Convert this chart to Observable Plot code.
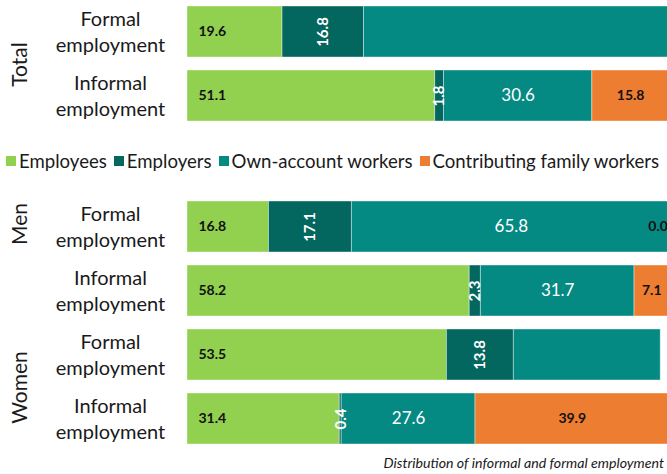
<!DOCTYPE html>
<html><head><meta charset="utf-8">
<script src="https://cdn.jsdelivr.net/npm/d3@7"></script>
<script src="https://cdn.jsdelivr.net/npm/@observablehq/plot@0.6"></script>
<style>
body{margin:0;background:#fff;font-family:Lato, sans-serif;width:667px;height:474px;overflow:hidden;}
svg{display:block}
#legend{display:flex;align-items:center;height:67px;padding-left:6px;font-size:18.6px;color:#1a1a1a;white-space:nowrap}
#legend .sw{width:10px;height:10px;margin-right:3px;flex:none}
#legend .it{display:flex;align-items:center;margin-right:7px}
#caption{height:23px;line-height:23px;text-align:right;padding-right:3px;font-size:14.2px;font-style:italic;color:#1a1a1a}
</style></head><body><div id="chart"></div><script>
const groups = ["Total","Total","Men","Men","Women","Women"];
const kinds = ["Formal employment","Informal employment","Formal employment","Informal employment","Formal employment","Informal employment"];
const statuses = ["Employees","Employers","Own-account workers","Contributing family workers"];
const colors = ["#92D050","#03675F","#058A83","#ED7D31"];
const employees  = [19.6, 51.1, 16.8, 58.2, 53.5, 31.4];
const employers  = [16.8,  1.8, 17.1,  2.3, 13.8,  0.4];
const ownAccount = [63.6, 30.6, 65.8, 31.7, 30.3, 27.6];
const family     = [ 0.0, 15.8,  0.0,  7.1,  0.0, 39.9];
const ownAccountLabelled = [false, true, true, true, false, true];
const familyLabelled     = [false, true, true, true, false, true];
const caption = "Distribution of informal and formal employment";

const series = [employees, employers, ownAccount, family];
const data = [];
groups.forEach((g, i) => {
  series.forEach((vals, j) => {
    const shown = j === 2 ? ownAccountLabelled[i] : j === 3 ? familyLabelled[i] : true;
    data.push({group: g, kind: kinds[i], key: g + "|" + kinds[i], status: statuses[j],
      value: vals[i], label: shown ? vals[i].toFixed(1) : null});
  });
});

function panel(gs, height, groupMarks) {
  const d = data.filter(r => gs.includes(r.group));
  const keys = [...new Set(d.map(r => r.key))];
  const rows = keys.map(k => d.find(r => r.key === k));
  const firsts = gs.map(g => rows.find(r => r.group === g));
  const lab = (s, extra) => r => (r.status === s && (!extra || extra(r))) ? r.label : null;
  return Plot.plot({
    width: 667, height, marginLeft: 187, marginRight: 0, marginTop: 0, marginBottom: 0,
    style: {fontFamily: "Lato, sans-serif", background: "white", overflow: "visible"},
    x: {domain: [0, 99], axis: null},
    y: {domain: keys, axis: null, paddingInner: 0.2, paddingOuter: 0.077},
    color: {domain: statuses, range: colors},
    marks: [
      Plot.barX(d, Plot.stackX({x: "value", y: "key", fill: "status", stroke: "white", strokeWidth: 0.8, strokeOpacity: 0.5, clip: true})),
      Plot.text(d, Plot.stackX1({x: "value", y: "key", z: "status", text: lab(statuses[0]), textAnchor: "start", dx: 11, fontWeight: "bold", fontSize: 14, fill: "#111"})),
      Plot.text(d, Plot.stackX({x: "value", y: "key", z: "status", text: lab(statuses[1]), rotate: -90, fill: "white", fontWeight: "bold", fontSize: 15})),
      Plot.text(d, Plot.stackX({x: "value", y: "key", z: "status", text: lab(statuses[2]), fill: "white", fontSize: 17})),
      Plot.text(d, Plot.stackX({x: "value", y: "key", z: "status", text: lab(statuses[3], r => r.value > 0), fill: "#111", fontWeight: "bold", fontSize: 14})),
      Plot.text(d, Plot.stackX2({x: "value", y: "key", z: "status", text: lab(statuses[3], r => r.value === 0), textAnchor: "end", dx: -3, fill: "#111", fontWeight: "bold", fontSize: 14})),
      Plot.text(rows, {y: "key", text: r => r.kind.replace(" ", "\n"), frameAnchor: "left", textAnchor: "middle", dx: -77, dy: -1, fontSize: 20, lineHeight: 1.3, fill: "#1a1a1a"}),
      ...groupMarks(firsts)
    ]
  });
}

const gOpts = {y: "key", text: "group", rotate: -90, frameAnchor: "left", textAnchor: "middle", dx: -167, fontSize: 21, fill: "#1a1a1a"};
const chart = document.getElementById("chart");
chart.append(panel(["Total"], 127, f => [
  Plot.text(f, {...gOpts, dy: 32.5})
]));

const legend = document.createElement("div");
legend.id = "legend";
statuses.forEach((s, i) => {
  const it = document.createElement("div"); it.className = "it";
  const sw = document.createElement("div"); sw.className = "sw"; sw.style.background = colors[i];
  it.append(sw, document.createTextNode(s));
  legend.append(it);
});
chart.append(legend);

chart.append(panel(["Men", "Women"], 257, f => [
  Plot.text(f.filter(r => r.group === "Men"), {...gOpts, dy: -3}),
  Plot.text(f.filter(r => r.group === "Women"), {...gOpts, dy: 32.5})
]));

const cap = document.createElement("div");
cap.id = "caption"; cap.textContent = caption;
chart.append(cap);
</script></body></html>
